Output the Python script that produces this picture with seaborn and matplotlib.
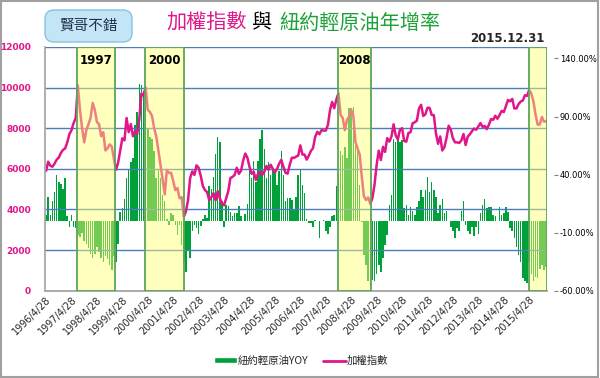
import pandas as pd
import matplotlib
matplotlib.use('Agg')
import matplotlib.pyplot as plt
import seaborn as sns
from matplotlib.patches import Patch, FancyBboxPatch, Rectangle
from matplotlib.lines import Line2D
from matplotlib.ticker import FuncFormatter

# 加權指數 (monthly, 1996/4 - 2015/12)
taiex = (
    [5900, 6350, 6150, 6100, 6250, 6450, 6550, 6780, 6930]  # 1996 Apr-Dec
    + [7000, 7300, 7700, 7900, 8250, 8500, 10100, 8900, 8000, 7300, 7900, 8190]
    + [8500, 9240, 8900, 8300, 8200, 7600, 7800, 6900, 7000, 7200, 7100, 6500]
    + [5950, 6300, 6900, 7500, 7400, 8500, 7800, 8200, 7600, 7850, 7700, 8450]
    + [9700, 9600, 10000, 8900, 8800, 8600, 8000, 7600, 6900, 6200, 5500, 4740]
    + [5940, 5800, 5800, 5400, 4950, 5050, 4550, 4600, 3640, 3900, 4450, 5550]
    + [5870, 5700, 6170, 6050, 5650, 5150, 4950, 4850, 4450, 4600, 4800, 4450]
    + [4900, 4550, 4300, 4200, 4550, 4900, 5550, 5600, 5700, 6050, 5750, 5900]
    + [6400, 6750, 6550, 6100, 5750, 5850, 5450, 5750, 5850, 5700, 5850, 6140]
    + [5950, 6200, 6000, 5820, 6000, 6250, 6440, 6100, 5800, 5760, 6200, 6550]
    + [6530, 6600, 6650, 7150, 6700, 6700, 6450, 6650, 6880, 7020, 7570, 7820]
    + [7700, 7900, 7880, 7880, 8150, 8880, 9290, 8980, 9410, 9720, 8650, 8500]
    + [7900, 8400, 8570, 8900, 8620, 7320, 7000, 6700, 5600, 4650, 4460, 4590]
    + [4270, 4560, 5210, 6190, 6890, 6430, 7080, 6830, 7510, 7340, 7580, 8190]
    + [7640, 7440, 7920, 8000, 7370, 7330, 7760, 7800, 8240, 8290, 8370, 8970]
    + [9150, 8600, 8680, 9000, 9000, 8650, 8640, 7740, 7230, 7590, 6900, 7070]
    + [7520, 8120, 7930, 7500, 7300, 7300, 7270, 7400, 7710, 7170, 7580, 7700]
    + [7850, 7980, 7920, 8090, 8250, 8060, 8110, 7950, 8170, 8450, 8410, 8610]
    + [8460, 8640, 8850, 8790, 9080, 9390, 9320, 9440, 8970, 8970, 9190, 9310]
    + [9360, 9620, 9590, 9880, 9700, 9320, 8670, 8170, 8180, 8550, 8320, 8340]
)

# 紐約輕原油 YOY (%)
oil_yoy = (
    [5, 21, 5, 17, 25, 40, 34, 32, 28]  # 1996 Apr-Dec
    + [37, 4, -5, 5, -5, -6, -12, -14, -10, -17, -20, -23]
    + [-28, -32, -28, -22, -27, -32, -35, -30, -33, -38, -42, -30]
    + [-35, -20, 8, 11, 19, 37, 45, 51, 54, 83, 94, 118]
    + [117, 112, 108, 80, 72, 71, 60, 37, 45, 37, 22, 17]
    + [2, -3, 7, 5, -3, -12, -3, -21, -35, -44, -26, -32]
    + [-9, -3, -6, -11, -4, 2, 5, 3, 30, 28, 38, 58]
    + [72, 68, 17, -5, 14, 13, 8, 4, 7, 7, 13, 4]
    + [0, 6, 15, 44, 37, 52, 34, 52, 71, 78, 62, 37]
    + [51, 40, 45, 45, 31, 43, 60, 40, 17, 20, 20, 18]
    + [10, 21, 40, 44, 31, 24, 2, -2, -2, -5, 1, 0]
    + [-15, 0, 1, -9, -11, -5, 4, 5, 30, 41, 60, 57]
    + [64, 54, 97, 97, 98, 65, 60, 31, -1, -29, -38, -52]
    + [-55, -51, -52, -46, -38, -44, -32, -21, -12, 14, 22, 71]
    + [68, 70, 68, 70, 11, 14, 5, 12, 9, 5, 12, 17]
    + [27, 21, 27, 38, 25, 34, 27, 21, 7, 14, 19, 7]
    + [9, 0, -5, -9, -15, -6, -9, 9, 17, -3, -9, -11]
    + [-5, -13, -5, -11, 7, 14, 19, 11, 12, 12, 5, 4]
    + [0, 12, 5, 7, 12, 8, -6, -9, -15, -22, -29, -35]
    + [-49, -52, -53, -35, -46, -52, -48, -49, -41, -38, -42, -40]
)

year_labels = [f'{y}/4/28' for y in range(1996, 2016)]
left_ticks = [0, 2000, 4000, 6000, 8000, 10000, 12000]
right_ticks = [-60, -10, 40, 90, 140]

# highlighted periods, in months from 1996/4
span_start = [14.7, 46.7, 137.8, 228.0]
span_end = [32.7, 65.1, 153.4, 236.5]
span_label = ['1997', '2000', '2008', '']

pink = '#E0168A'
green = '#00A03A'
cjk = ['Noto Sans CJK TC', 'DejaVu Sans']

df = pd.DataFrame({'m': range(len(taiex)), 'taiex': taiex, 'oil': oil_yoy})

sns.set_theme(style='white')
plt.rcParams['font.family'] = ['DejaVu Sans', 'Noto Sans CJK TC']

fig = plt.figure(figsize=(6, 3.78), dpi=100)
ax = fig.add_axes([0.075, 0.231, 0.837, 0.645])
ax2 = ax.twinx()

sns.barplot(data=df, x='m', y='oil', ax=ax2, color=green, saturation=1,
            width=0.72, linewidth=0)
sns.lineplot(data=df, x='m', y='taiex', ax=ax, color=pink, lw=1.8, legend=False)

ax.set_zorder(ax2.get_zorder() + 1)
ax.patch.set_visible(False)

ax.set_xlim(-0.5, len(taiex) - 0.5)
ax.set_ylim(0, 12000)
ax.set_yticks(left_ticks)
ax.yaxis.grid(True, color='#4A7EBB', lw=1)
ax.xaxis.grid(False)
ax.set_xticks(range(0, len(taiex), 12))
ax.set_xticklabels(year_labels, rotation=45, ha='right', rotation_mode='anchor',
                   fontsize=7)
ax.tick_params(axis='x', length=0, pad=3)
ax.tick_params(axis='y', length=0, pad=10, labelsize=6.5, labelcolor=pink)
for t in ax.get_yticklabels():
    t.set_fontweight('bold')
ax.set_xlabel('')
ax.set_ylabel('')
for s in ['top', 'right']:
    ax.spines[s].set_visible(False)
ax.spines['left'].set_color('#A6A6A6')
ax.spines['bottom'].set_color('#A6A6A6')
ax.spines['bottom'].set_linewidth(1.3)

ax2.set_ylim(-60, 150)
ax2.set_yticks(right_ticks)
ax2.yaxis.set_major_formatter(FuncFormatter(lambda v, p: f'{v:.2f}%'))
for s in ax2.spines.values():
    s.set_visible(False)
ax2.spines['right'].set_position(('outward', 5))
ax2.tick_params(axis='y', right=True, length=3, width=0.8, color='#808080',
                pad=1, labelsize=6.0, labelcolor='black')
ax2.set_xlabel('')
ax2.set_ylabel('')
ax2.grid(False)

for s, e, lab in zip(span_start, span_end, span_label):
    ax.axvspan(s, e, facecolor=(1, 1, 0.45, 0.46), edgecolor='#5BA55B',
               lw=1.3, zorder=10)
    if lab:
        ax.text((s + e) / 2, 11350, lab, ha='center', va='center',
                fontsize=8.5, fontweight='bold', color='black', zorder=11)

# title
fig.text(166 / 600, 0.939, '加權指數', color=pink, fontsize=14.5,
         family=cjk, ha='left', va='center')
fig.text(251 / 600, 0.939, '與', color='black', fontsize=14.5,
         family=cjk, ha='left', va='center')
fig.text(279 / 600, 0.939, '紐約輕原油年增率', color='#1DA23A', fontsize=14.5,
         family=cjk, ha='left', va='center')
fig.text(470 / 600, 0.899, '2015.12.31', fontsize=8.5, fontweight='bold',
         ha='left', va='center')

box = FancyBboxPatch((45 / 600, 1 - 42 / 378), 87 / 600, 32 / 378,
                     boxstyle='round,pad=0,rounding_size=0.015',
                     mutation_aspect=600 / 378, transform=fig.transFigure,
                     facecolor='#C3E5F5', edgecolor='#86C3DF', lw=1)
fig.patches.append(box)
fig.text(88.5 / 600, 1 - 26 / 378, '賢哥不錯', fontsize=10.5, color='#1F2F4F',
         family=cjk, ha='center', va='center')

handles = [Patch(facecolor=green, label='紐約輕原油YOY'),
           Line2D([0], [0], color=pink, lw=2, label='加權指數')]
fig.legend(handles=handles, loc='center', bbox_to_anchor=(0.502, 0.045), ncol=2,
           frameon=False, prop={'family': cjk, 'size': 7.5}, handlelength=2.2,
           handleheight=0.5, columnspacing=1.4, handletextpad=0.1)

fig.patches.append(Rectangle((0.002, 0.003), 0.995, 0.994, transform=fig.transFigure,
                             fill=False, ec='#A0A0A0', lw=1.5))

fig.savefig('out.png', dpi=100)
